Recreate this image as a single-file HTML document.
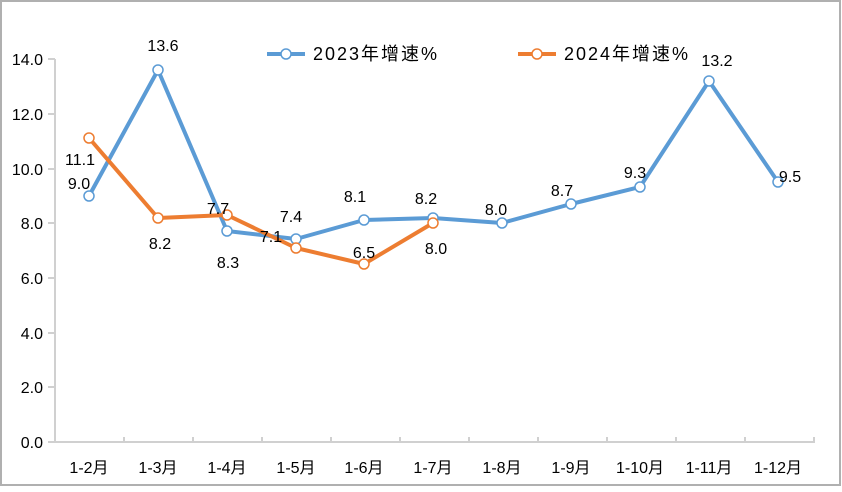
<!DOCTYPE html>
<html><head><meta charset="utf-8"><style>
body{margin:0;background:#fff;}
svg text{font-family:"Liberation Sans","Noto Sans CJK SC",sans-serif;font-size:16px;fill:#000;}
</style></head><body>
<svg width="842" height="487" viewBox="0 0 842 487" xmlns="http://www.w3.org/2000/svg">
<rect x="1" y="1" width="839" height="484" fill="#fff" stroke="#b0b0b0" stroke-width="2"/>
<g stroke="#d0d0d0" stroke-width="2">
<line x1="55" y1="59" x2="55" y2="443"/>
<line x1="55" y1="442" x2="815" y2="442"/>
<line x1="48" y1="59" x2="55" y2="59"/><line x1="48" y1="114" x2="55" y2="114"/><line x1="48" y1="169" x2="55" y2="169"/><line x1="48" y1="223" x2="55" y2="223"/><line x1="48" y1="278" x2="55" y2="278"/><line x1="48" y1="333" x2="55" y2="333"/><line x1="48" y1="387" x2="55" y2="387"/><line x1="48" y1="442" x2="55" y2="442"/>
<line x1="124" y1="437" x2="124" y2="442"/><line x1="193" y1="437" x2="193" y2="442"/><line x1="262" y1="437" x2="262" y2="442"/><line x1="331" y1="437" x2="331" y2="442"/><line x1="400" y1="437" x2="400" y2="442"/><line x1="469" y1="437" x2="469" y2="442"/><line x1="538" y1="437" x2="538" y2="442"/><line x1="607" y1="437" x2="607" y2="442"/><line x1="676" y1="437" x2="676" y2="442"/><line x1="745" y1="437" x2="745" y2="442"/><line x1="814" y1="437" x2="814" y2="442"/>
</g>
<g text-anchor="end">
<text x="43" y="65">14.0</text><text x="43" y="120">12.0</text><text x="43" y="175">10.0</text><text x="43" y="229">8.0</text><text x="43" y="284">6.0</text><text x="43" y="339">4.0</text><text x="43" y="393">2.0</text><text x="43" y="448">0.0</text>
</g>
<g text-anchor="middle" style="font-size:17px">
<text x="89" y="473">1-2月</text><text x="158" y="473">1-3月</text><text x="227" y="473">1-4月</text><text x="296" y="473">1-5月</text><text x="364" y="473">1-6月</text><text x="433" y="473">1-7月</text><text x="502" y="473">1-8月</text><text x="571" y="473">1-9月</text><text x="640" y="473">1-10月</text><text x="709" y="473">1-11月</text><text x="778" y="473">1-12月</text>
</g>
<polyline fill="none" stroke="#5B9BD5" stroke-width="4" stroke-linejoin="round" points="89,196 158,70 227,231 296,239 364,220 433,218 502,223 571,204 640,187 709,81 778,182"/>
<polyline fill="none" stroke="#ED7D31" stroke-width="4" stroke-linejoin="round" points="89,138 158,218 227,215 296,248 364,264 433,223"/>
<g fill="#fff" stroke="#5B9BD5" stroke-width="1.5">
<circle cx="89" cy="196" r="5"/><circle cx="158" cy="70" r="5"/><circle cx="227" cy="231" r="5"/><circle cx="296" cy="239" r="5"/><circle cx="364" cy="220" r="5"/><circle cx="433" cy="218" r="5"/><circle cx="502" cy="223" r="5"/><circle cx="571" cy="204" r="5"/><circle cx="640" cy="187" r="5"/><circle cx="709" cy="81" r="5"/><circle cx="778" cy="182" r="5"/>
</g>
<g fill="#fff" stroke="#ED7D31" stroke-width="1.5">
<circle cx="89" cy="138" r="5"/><circle cx="158" cy="218" r="5"/><circle cx="227" cy="215" r="5"/><circle cx="296" cy="248" r="5"/><circle cx="364" cy="264" r="5"/><circle cx="433" cy="223" r="5"/>
</g>
<g text-anchor="middle">
<text x="80" y="165">11.1</text><text x="79" y="189">9.0</text>
<text x="163" y="51">13.6</text><text x="160" y="249">8.2</text>
<text x="218" y="214">7.7</text><text x="228" y="268">8.3</text>
<text x="291" y="222">7.4</text><text x="271" y="242">7.1</text>
<text x="355" y="202">8.1</text><text x="364" y="258">6.5</text>
<text x="426" y="204">8.2</text><text x="436" y="254">8.0</text>
<text x="496" y="215">8.0</text><text x="562" y="196">8.7</text><text x="635" y="178">9.3</text><text x="717" y="66">13.2</text><text x="790" y="182">9.5</text>
</g>
<line x1="267" y1="54" x2="305" y2="54" stroke="#5B9BD5" stroke-width="4"/>
<circle cx="286" cy="54" r="5" fill="#fff" stroke="#5B9BD5" stroke-width="1.5"/>
<text x="313" y="60" style="font-size:18px" textLength="124">2023年增速%</text>
<line x1="518" y1="54" x2="556" y2="54" stroke="#ED7D31" stroke-width="4"/>
<circle cx="537" cy="54" r="5" fill="#fff" stroke="#ED7D31" stroke-width="1.5"/>
<text x="564" y="60" style="font-size:18px" textLength="124">2024年增速%</text>
</svg>
</body></html>
